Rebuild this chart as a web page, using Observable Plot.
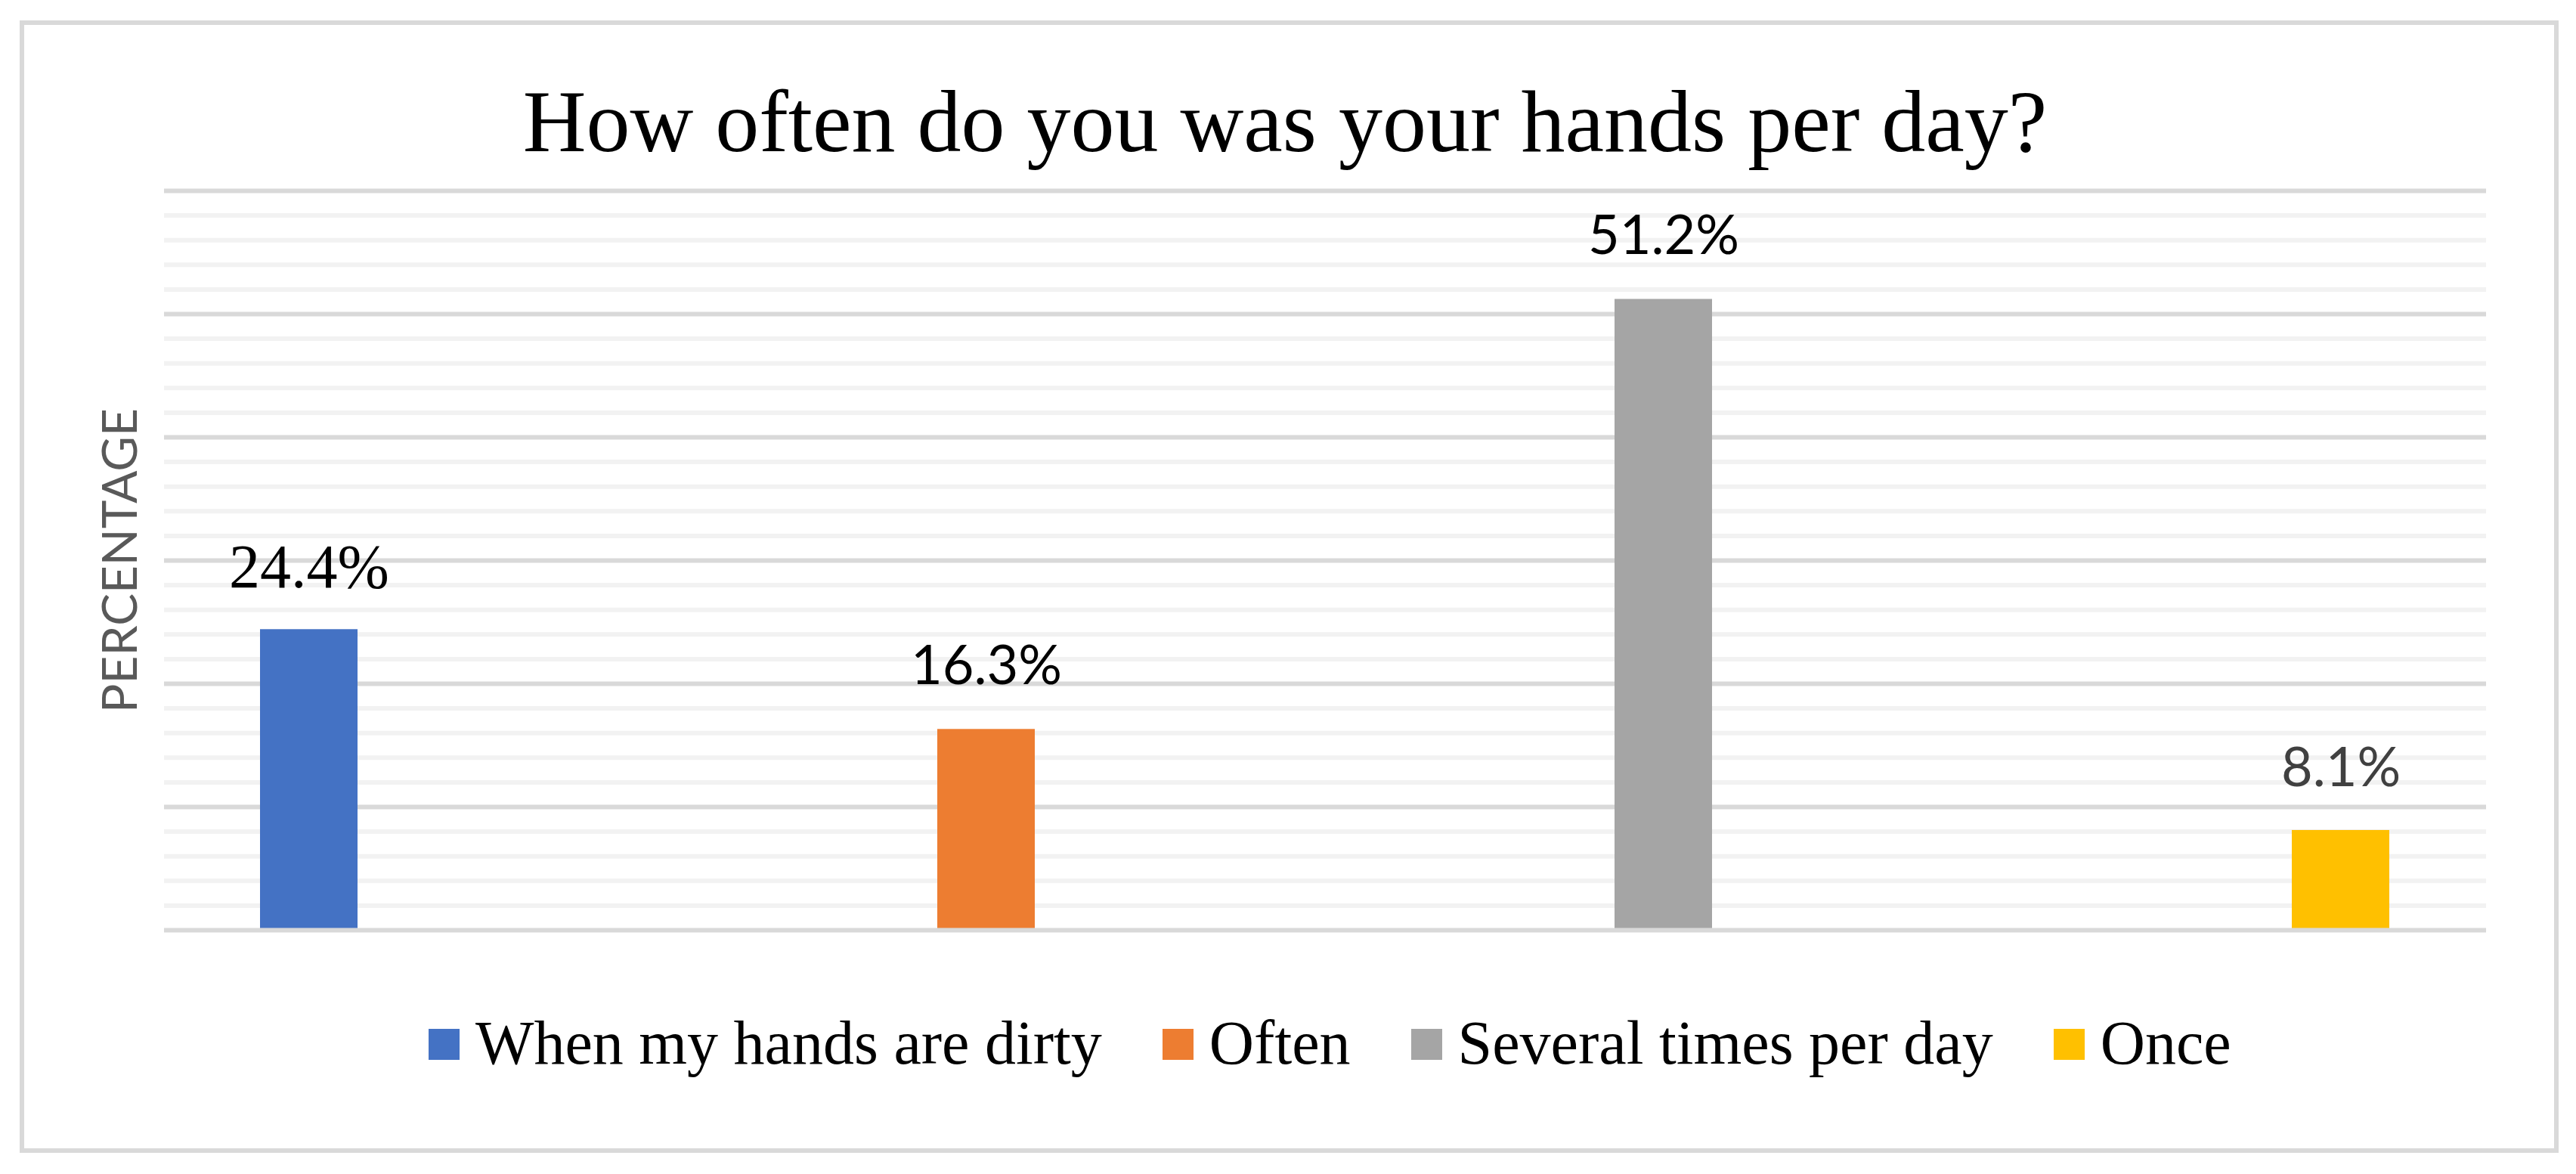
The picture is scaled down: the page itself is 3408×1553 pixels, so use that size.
<!DOCTYPE html>
<html>
<head>
<meta charset="utf-8">
<script src="https://cdn.jsdelivr.net/npm/d3@7"></script>
<script src="https://cdn.jsdelivr.net/npm/@observablehq/plot@0.6"></script>
<style>
  html, body { margin: 0; padding: 0; background: #fff; }
  body { width: 3408px; height: 1553px; position: relative; overflow: hidden; }
  #frame { position: absolute; left: 26px; top: 27px; width: 3359px; height: 1498px;
           border: 6px solid #d9d9d9; box-sizing: border-box; pointer-events: none; }
  #wrap { position: absolute; left: 0; top: 0; width: 3408px; }
  #title { height: 230px; box-sizing: border-box; padding-top: 103px; text-align: center;
           font-family: "Liberation Serif", "Times New Roman", serif; font-size: 116px;
           line-height: 1; color: #000; padding-right: 8px; }
  #legend { height: 250px; box-sizing: border-box; padding-top: 69px; padding-left: 567px;
            display: flex; align-items: flex-start;
            font-family: "Liberation Serif", "Times New Roman", serif; font-size: 82px;
            line-height: 1; color: #000; }
  .item { display: flex; align-items: flex-start; margin-right: 80px; }
  .sw { width: 41px; height: 41px; margin-top: 22px; margin-right: 21px; }
  svg { display: block; }
  g[aria-label="serif-label"] text { font-family: "Liberation Serif", "Times New Roman", serif !important; }
</style>
</head>
<body>
<div id="wrap">
  <div id="title"></div>
  <div id="chart"></div>
  <div id="legend"></div>
</div>
<div id="frame"></div>
<script>
const titleText = "How often do you was your hands per day?";
const yLabel = "PERCENTAGE";
const categories = ["When my hands are dirty", "Often", "Several times per day", "Once"];
const values = [24.4, 16.3, 51.2, 8.1];
const valueLabels = ["24.4%", "16.3%", "51.2%", "8.1%"];
const colors = ["#4472C4", "#ED7D31", "#A5A5A5", "#FFC000"];
const majorTicks = [0, 10, 20, 30, 40, 50, 60];
const minorTicks = [2, 4, 6, 8, 12, 14, 16, 18, 22, 24, 26, 28, 32, 34, 36, 38, 42, 44, 46, 48, 52, 54, 56, 58];

const rows = categories.map((c, i) => ({category: c, value: values[i], label: valueLabels[i]}));

document.getElementById("title").textContent = titleText;

const serif = "Liberation Serif";
const sans = "Lato";

const chart = Plot.plot({
  width: 3408,
  height: 1040,
  marginLeft: 217,
  marginRight: 119,
  marginTop: 22,
  marginBottom: 40,
  x: {domain: categories, paddingInner: 0.856, paddingOuter: 0.141, axis: null},
  y: {domain: [0, 60], axis: null},
  color: {domain: categories, range: colors},
  marks: [
    Plot.ruleY(minorTicks, {stroke: "#f2f2f2", strokeWidth: 6}),
    Plot.ruleY(majorTicks.filter(t => t !== 0), {stroke: "#d9d9d9", strokeWidth: 6}),
    Plot.barY(rows, {x: "category", y: "value", fill: "category"}),
    Plot.ruleY([0], {stroke: "#d9d9d9", strokeWidth: 6}),
    Plot.text(rows.filter((d, i) => i === 0), {x: "category", y: "value", text: "label",
      lineAnchor: "bottom", dy: -56, fontFamily: serif, fontSize: 82, fill: "#000",
      ariaLabel: "serif-label"}),
    Plot.text(rows.filter((d, i) => i === 1 || i === 2), {x: "category", y: "value", text: "label",
      lineAnchor: "bottom", dy: -60, fontFamily: sans, fontSize: 72, fill: "#000"}),
    Plot.text(rows.filter((d, i) => i === 3), {x: "category", y: "value", text: "label",
      lineAnchor: "bottom", dy: -58, fontFamily: sans, fontSize: 72, fill: "#404040"}),
    Plot.text([yLabel], {text: d => d, frameAnchor: "left", textAnchor: "middle", rotate: -90, dx: -57,
      fontFamily: sans, fontSize: 64, fill: "#595959"})
  ]
});
document.getElementById("chart").appendChild(chart);
d3.select(chart).selectAll('g[aria-label="serif-label"], g[aria-label="serif-label"] text')
  .attr("font-family", serif).style("font-family", "'Liberation Serif', serif");

const legend = document.getElementById("legend");
categories.forEach((c, i) => {
  const item = document.createElement("div");
  item.className = "item";
  const sw = document.createElement("div");
  sw.className = "sw";
  sw.style.background = colors[i];
  const t = document.createElement("span");
  t.textContent = c;
  item.appendChild(sw);
  item.appendChild(t);
  legend.appendChild(item);
});
</script>
</body>
</html>
